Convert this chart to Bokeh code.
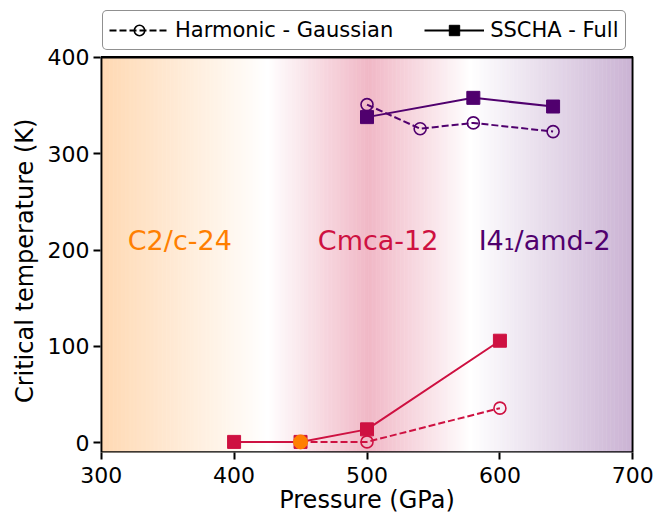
import numpy as np
from bokeh.plotting import figure
from bokeh.models import Legend, LegendItem, Range1d, FixedTicker
from bokeh.core.properties import value
from bokeh.embed import file_html
from bokeh.resources import INLINE

FONT = "DejaVu Sans"

# ---- data ----
# I4_1/amd-2 (purple)
i4_harm_p = [500, 540, 580, 640]
i4_harm_tc = [351, 326, 332, 323]
i4_sscha_p = [500, 580, 640]
i4_sscha_tc = [338, 358, 349]
# Cmca-12 (crimson)
cmca_harm_p = [450, 500, 600]
cmca_harm_tc = [1, 1, 36]
cmca_sscha_p = [400, 450, 500, 600]
cmca_sscha_tc = [1, 1, 14, 106]
# C2/c-24 (orange)
c2c_p = [450]
c2c_tc = [1]

phase_names = ["C2/c-24", "Cmca-12", "I4\u2081/amd-2"]
phase_label_x = [320, 463, 584]
phase_label_y = [210, 210, 210]

x_ticks = [300, 400, 500, 600, 700]
y_ticks = [0, 100, 200, 300, 400]
X_MIN, X_MAX = 300, 700
Y_MIN, Y_MAX = -10, 400

C_ORANGE = (255, 127, 0)
C_CRIMSON = (206, 17, 65)
C_PURPLE = (80, 0, 110)
hex_orange = "#ff7f00"
hex_crimson = "#ce1141"
hex_purple = "#50006e"

# background gradient stops (pressure, alpha) per phase
orange_stops_p = [300, 425]
orange_stops_a = [0.3, 0.0]
crimson_stops_p = [425, 501, 578]
crimson_stops_a = [0.0, 0.3, 0.0]
purple_stops_p = [578, 700]
purple_stops_a = [0.0, 0.3]

# frame extends above the data box to host the legend; the data box is outlined by hand
PX_PER_UNIT = 396.0 / (Y_MAX - Y_MIN)
y_top = Y_MAX + 57.0 / PX_PER_UNIT

p = figure(width=661, height=516, x_range=Range1d(X_MIN - 0.5, X_MAX + 0.5),
           y_range=Range1d(Y_MIN, y_top),
           output_backend="svg", toolbar_location=None,
           min_border_left=100, min_border_right=28, min_border_top=0, min_border_bottom=63)
p.background_fill_color = "white"
p.border_fill_color = "white"
p.grid.visible = False
p.outline_line_color = None

# gradient strips
edges = np.linspace(X_MIN, X_MAX, 401)
mids = 0.5 * (edges[:-1] + edges[1:])
def alpha_at(stops_p, stops_a, x):
    return np.interp(x, stops_p, stops_a, left=0.0, right=0.0)
ao = alpha_at(orange_stops_p, orange_stops_a, mids)
ac = alpha_at(crimson_stops_p, crimson_stops_a, mids)
ap = alpha_at(purple_stops_p, purple_stops_a, mids)
cols = []
for a1, a2, a3 in zip(ao, ac, ap):
    rgb = np.array([255.0, 255.0, 255.0])
    for a, c in ((a1, C_ORANGE), (a2, C_CRIMSON), (a3, C_PURPLE)):
        rgb = rgb * (1 - a) + np.array(c) * a
    cols.append("#%02x%02x%02x" % tuple(int(round(v)) for v in rgb))
p.quad(left=edges[:-1], right=np.minimum(edges[1:] + 0.4, X_MAX), bottom=Y_MIN, top=Y_MAX,
       fill_color=cols, line_color=None)

DASH = "7 3"
# purple
p.line(i4_harm_p, i4_harm_tc, line_color=hex_purple, line_width=2, line_dash=DASH)
p.scatter(i4_harm_p, i4_harm_tc, marker="circle", size=12, fill_color=None,
          line_color=hex_purple, line_width=1.6)
p.line(i4_sscha_p, i4_sscha_tc, line_color=hex_purple, line_width=2)
p.scatter(i4_sscha_p, i4_sscha_tc, marker="square", size=13, fill_color=hex_purple,
          line_color=hex_purple)
# crimson
p.line(cmca_harm_p, cmca_harm_tc, line_color=hex_crimson, line_width=2, line_dash=DASH)
p.scatter(cmca_harm_p, cmca_harm_tc, marker="circle", size=12, fill_color=None,
          line_color=hex_crimson, line_width=1.6)
p.line(cmca_sscha_p, cmca_sscha_tc, line_color=hex_crimson, line_width=2)
p.scatter(cmca_sscha_p, cmca_sscha_tc, marker="square", size=13, fill_color=hex_crimson,
          line_color=hex_crimson)
# orange
p.scatter(c2c_p, c2c_tc, marker="circle", size=14, fill_color=hex_orange, line_color=hex_orange)

# data box outline (spines)
p.quad(left=[X_MIN], right=[X_MAX], bottom=[Y_MIN], top=[Y_MAX],
       fill_color=None, line_color="black", line_width=2.5)

# phase labels
p.text(x=phase_label_x, y=phase_label_y, text=phase_names,
       text_color=[hex_orange, hex_crimson, hex_purple],
       text_font=value(FONT), text_font_size="27px",
       text_align="left", text_baseline="middle")

# axes
for ax in (p.xaxis[0], p.yaxis[0]):
    ax.axis_line_width = 2.5
    ax.major_tick_line_width = 2
    ax.major_tick_out = 7
    ax.major_tick_in = 0
    ax.minor_tick_line_color = None
    ax.major_label_text_font = FONT
    ax.major_label_text_font_size = "22px"
    ax.major_label_text_color = "black"
    ax.axis_label_text_font = FONT
    ax.axis_label_text_font_size = "24px"
    ax.axis_label_text_font_style = "normal"
    ax.axis_label_text_color = "black"
p.yaxis.axis_line_color = None
p.xaxis.axis_line_color = None
p.yaxis.major_label_standoff = 4
p.yaxis.axis_label_standoff = 6
p.xaxis.major_label_standoff = 7
p.xaxis.axis_label_standoff = 0
p.xaxis.ticker = FixedTicker(ticks=x_ticks)
p.yaxis.ticker = FixedTicker(ticks=y_ticks)
p.xaxis.axis_label = "Pressure (GPa)"
# trailing no-break spaces centre the visible title on the data box (frame is taller)
p.yaxis.axis_label = "Critical temperature (K)" + "\u00a0" * 9

# legend (black proxies, NaN data so nothing is drawn in the plot)
nan = [float("nan")]
lh = p.line(x=nan, y=nan, line_color="black", line_width=2, line_dash=DASH)
ch = p.scatter(x=nan, y=nan, marker="circle", size=12, fill_color=None, line_color="black", line_width=1.6)
ls = p.line(x=nan, y=nan, line_color="black", line_width=2)
cs = p.scatter(x=nan, y=nan, marker="square", size=13, fill_color="black", line_color="black")
legend = Legend(items=[LegendItem(label="Harmonic - Gaussian", renderers=[lh, ch]),
                       LegendItem(label="SSCHA - Full", renderers=[ls, cs])],
                orientation="horizontal", location=(2, 402),
                label_text_font=FONT, label_text_font_size="21px", label_text_color="black",
                glyph_width=60, glyph_height=26, label_standoff=6, spacing=31,
                padding=6, margin=0,
                border_line_color="#222222", border_line_width=1.5, border_radius=5,
                background_fill_color="white", background_fill_alpha=1.0)
p.add_layout(legend, "center")

open("out.html", "w").write(file_html(p, INLINE))
